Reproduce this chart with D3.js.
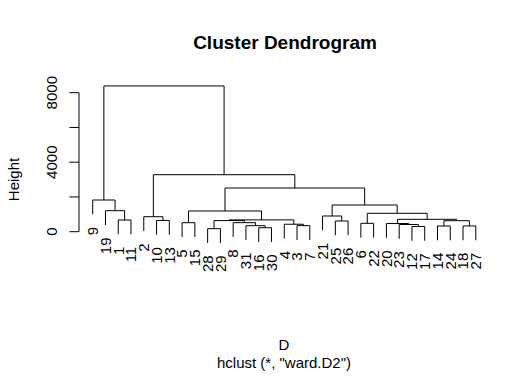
<!DOCTYPE html>
<html>
<head>
<meta charset="utf-8">
<title>Cluster Dendrogram</title>
<script src="https://cdn.jsdelivr.net/npm/d3@7"></script>
<style>
  body { margin: 0; background: #fff; }
  svg { display: block; }
  text { font-family: "Liberation Sans", Arial, Helvetica, sans-serif; fill: #000; }
  .link { fill: none; stroke: #000; stroke-width: 1px; }
</style>
</head>
<body>
<div id="chart"></div>
<script>
// leaf labels in plotting order
var leafOrder = ["9","19","1","11","2","10","13","5","15","28","29","8","31","16","30",
                 "4","3","7","21","25","26","6","22","20","23","12","17","14","24","18","27"];

// hclust style merge table: negative = observation label, positive = earlier merge step (1-based)
var mergeLeft  = [-28,-16,-12,-14,-18,-31, -3,-23, -4,-20, -6, -5, -8,-25,  4,-10,  1, -1, 17, 10, -2,-21, 11, 12,-19, 22, -9, 24, 21, 27];
var mergeRight = [-29,-30,-17,-24,-27,  2, -7,  3,  7,  8,-22,-15,  6,-26,  5,-13, 13,-11,  9, 15, 16, 14, 20, 19, 18, 23, 25, 26, 28, 29];
var mergeHeight = [175, 230, 300, 328, 330, 345, 350, 415, 430, 470, 483, 518, 520, 616, 633,
                   650, 640, 673, 680, 713, 863, 904, 1059, 1191, 1209, 1537, 1824, 2515, 3280, 8390];

var yTicks = [0, 2000, 4000, 6000, 8000];
var yTickLabels = [0, 4000, 8000];

var width = 532, height = 377;

var svg = d3.select("#chart").append("svg")
  .attr("width", width)
  .attr("height", height);

var x = d3.scaleLinear().domain([0, leafOrder.length - 1]).range([92.7, 475.8]);
var y = d3.scaleLinear().domain([0, 8000]).range([231.7, 92.7]);

var hang = 0.1 * (d3.max(mergeHeight) - d3.min(mergeHeight));
var labelOffset = 12.5;

// position of each node
var leafPos = {};
leafOrder.forEach(function(l, i) { leafPos[l] = i; });
var nodePos = [];
function posOf(id) {
  return id < 0 ? leafPos[String(-id)] : nodePos[id - 1];
}
function topOf(id, parentH) {
  return id < 0 ? parentH - hang : mergeHeight[id - 1];
}

var g = svg.append("g");
mergeHeight.forEach(function(h, k) {
  var a = mergeLeft[k], b = mergeRight[k];
  var xa = posOf(a), xb = posOf(b);
  nodePos[k] = (xa + xb) / 2;
  var path = d3.path();
  path.moveTo(x(xa), y(topOf(a, h)));
  path.lineTo(x(xa), y(h));
  path.lineTo(x(xb), y(h));
  path.lineTo(x(xb), y(topOf(b, h)));
  g.append("path").attr("class", "link").attr("d", path.toString());

  [a, b].forEach(function(id) {
    if (id < 0) {
      var lx = x(leafPos[String(-id)]), ly = y(h - hang) + labelOffset;
      g.append("text")
        .attr("transform", "translate(" + (lx + 5.3) + "," + ly + ") rotate(-90)")
        .attr("text-anchor", "end")
        .style("font-size", "15px")
        .text(String(-id));
    }
  });
});

// y axis
var axisX = 79;
svg.append("line")
  .attr("x1", axisX).attr("x2", axisX)
  .attr("y1", y(0)).attr("y2", y(8000))
  .attr("stroke", "#000");
svg.selectAll(".tick").data(yTicks).enter().append("line")
  .attr("class", "tick")
  .attr("x1", axisX - 9.5).attr("x2", axisX)
  .attr("y1", function(d) { return y(d); })
  .attr("y2", function(d) { return y(d); })
  .attr("stroke", "#000");
svg.selectAll(".tlab").data(yTickLabels).enter().append("text")
  .attr("class", "tlab")
  .attr("transform", function(d) { return "translate(57," + y(d) + ") rotate(-90)"; })
  .attr("text-anchor", "middle")
  .style("font-size", "15px")
  .text(function(d) { return d; });

svg.append("text")
  .attr("transform", "translate(19,179.5) rotate(-90)")
  .attr("text-anchor", "middle")
  .style("font-size", "15px")
  .text("Height");

svg.append("text")
  .attr("x", 285).attr("y", 48.5)
  .attr("text-anchor", "middle")
  .style("font-size", "19px")
  .style("font-weight", "bold")
  .text("Cluster Dendrogram");

svg.append("text")
  .attr("x", 284).attr("y", 350)
  .attr("text-anchor", "middle")
  .style("font-size", "15px")
  .text("D");

svg.append("text")
  .attr("x", 284).attr("y", 367.5)
  .attr("text-anchor", "middle")
  .style("font-size", "15px")
  .text('hclust (*, "ward.D2")');
</script>
</body>
</html>
